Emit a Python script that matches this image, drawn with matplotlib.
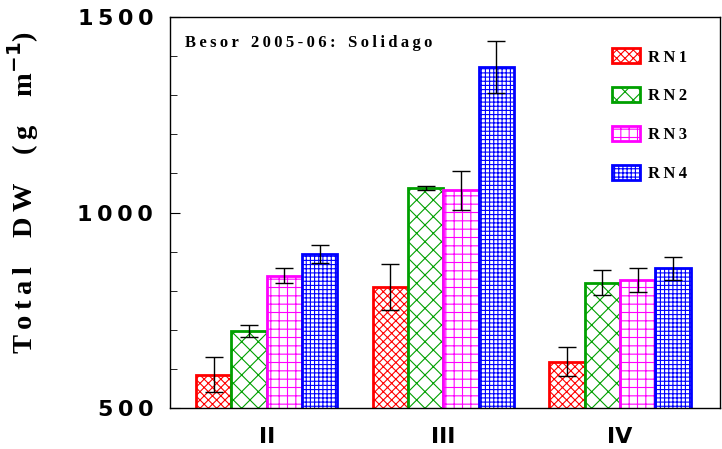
import matplotlib
matplotlib.use("Agg")
import matplotlib.pyplot as plt
import numpy as np

groups = ["II", "III", "IV"]
series = ["RN1", "RN2", "RN3", "RN4"]
means = {
    "RN1": [585, 809, 618],
    "RN2": [697, 1063, 821],
    "RN3": [838, 1057, 828],
    "RN4": [894, 1373, 857],
}
errs = {
    "RN1": [45, 59, 37],
    "RN2": [15, 6, 31],
    "RN3": [19, 50, 31],
    "RN4": [24, 67, 30],
}

COLORS = {"RN1": "#ff0000", "RN2": "#00a000", "RN3": "#ff00ff", "RN4": "#0000ff"}
HATCHES = {"RN1": "xxxx", "RN2": "xx", "RN3": "++", "RN4": "++++"}

plt.rcParams["hatch.linewidth"] = 0.8
SERIF = "Liberation Serif"


def spaced(s):
    # espaçamento entre letras, como no original
    return "\u2009".join(s)


fig = plt.figure(figsize=(7.22, 4.49), dpi=100)
ax = fig.add_axes([0.2355, 0.0913, 0.7615, 0.8707])

x = np.arange(len(groups)) + 1
width = 0.2
handles = []
for i, s in enumerate(series):
    off = (i - 1.5) * width
    b = ax.bar(x + off, means[s], width, bottom=0, color="white",
               edgecolor=COLORS[s], hatch=HATCHES[s], linewidth=2,
               label=s, zorder=2)
    ax.errorbar(x + off, means[s], yerr=errs[s], fmt="none", ecolor="black",
                elinewidth=1, capsize=6.5, capthick=1, zorder=3)
    handles.append(b)

ax.set_xlim(0.452, 3.565)
ax.set_ylim(500, 1500)
ax.set_xticks(x)
ax.set_xticklabels(groups, fontsize=16, fontweight="bold")
ax.tick_params(axis="x", length=0, pad=14)
ax.set_yticks([500, 1000, 1500])
ax.set_yticklabels([spaced(t) for t in ["500", "1000", "1500"]])
ax.set_yticks(np.arange(500, 1501, 100), minor=True)
ax.tick_params(axis="y", which="major", direction="in", length=7, labelsize=16, pad=12)
ax.tick_params(axis="y", which="minor", direction="in", length=5)
for lab in ax.get_yticklabels():
    lab.set_fontweight("bold")
for sp in ax.spines.values():
    sp.set_linewidth(1)

gap = "    "
ylab = spaced("Total") + gap + spaced("DW") + gap + "(\u2009g" + gap + "m$^{\\mathbf{-1}}$)"
ax.set_ylabel(ylab, fontsize=20.5, fontweight="bold", family=SERIF)
ax.yaxis.set_label_coords(-0.234, 0.552)
ax.text(0.027, 0.955, spaced("Besor") + "   " + spaced("2005-06:") + "   " + spaced("Solidago"),
        transform=ax.transAxes, fontsize=12, fontweight="bold", family=SERIF, va="top")

ax.legend(handles=handles, labels=[spaced(s) for s in series], loc="upper left",
          bbox_to_anchor=(0.803, 0.92), borderaxespad=0, borderpad=0,
          frameon=False, handlelength=1.7, handleheight=1.0, labelspacing=1.3,
          handletextpad=0.5,
          prop={"family": SERIF, "weight": "bold", "size": 12})

fig.savefig("out.png", dpi=100)
